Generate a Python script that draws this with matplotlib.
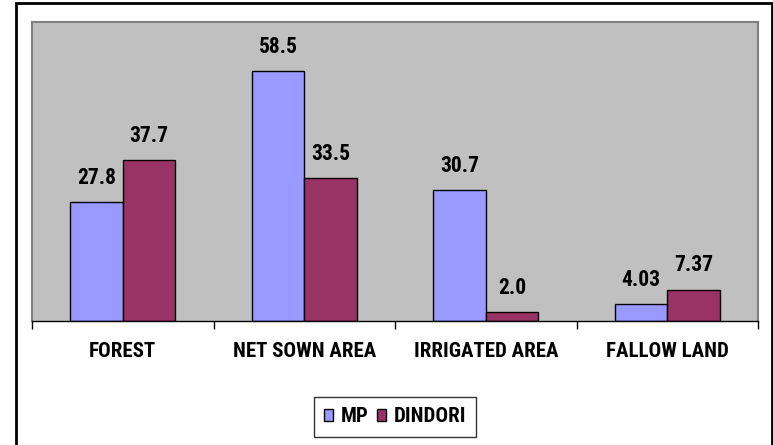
import numpy as np
import matplotlib.pyplot as plt
from matplotlib.patches import Rectangle

# land use shares (%)
categories = ["FOREST", "NET SOWN AREA", "IRRIGATED AREA", "FALLOW LAND"]
mp = [27.8, 58.5, 30.7, 4.03]
dindori = [37.7, 33.5, 2.0, 7.37]
mp_labels = ["27.8", "58.5", "30.7", "4.03"]
dindori_labels = ["37.7", "33.5", "2.0", "7.37"]

plt.rcParams['font.family'] = ['Roboto Condensed', 'Liberation Sans', 'DejaVu Sans']
plt.rcParams['font.weight'] = 'bold'

fig = plt.figure(figsize=(7.73, 4.45), dpi=100)
ax = fig.add_axes([32 / 773, 1 - 321 / 445, (758 - 32) / 773, (321 - 22) / 445])
ax.set_facecolor("#C0C0C0")

x = np.arange(len(categories))
w = 0.29
b1 = ax.bar(x - w / 2, mp, w, color="#9999FF", edgecolor="black", linewidth=1, label="MP")
b2 = ax.bar(x + w / 2, dindori, w, color="#993366", edgecolor="black", linewidth=1, label="DINDORI")

for bars, labels in ((b1, mp_labels), (b2, dindori_labels)):
    for r, t in zip(bars, labels):
        ax.annotate(t, (r.get_x() + r.get_width() / 2, r.get_height()),
                    xytext=(0, 13), textcoords="offset points",
                    ha="center", va="baseline", fontsize=15.5, fontweight="bold")

ax.set_xlim(-0.5, len(categories) - 0.5)
ax.set_ylim(0, 70)
ax.set_yticks([])

# boundary ticks between categories, labels at category centres
ax.set_xticks(np.arange(len(categories) + 1) - 0.5)
ax.set_xticklabels([])
ax.tick_params(axis="x", which="major", length=6, width=1, color="black", direction="out")
ax.set_xticks(x, minor=True)
ax.set_xticklabels(categories, minor=True, fontsize=15, fontweight="bold")
ax.tick_params(axis="x", which="minor", length=0, pad=15)

for s in ("left", "top", "right"):
    ax.spines[s].set_color("#808080")
    ax.spines[s].set_linewidth(1.5)
ax.spines["bottom"].set_color("black")
ax.spines["bottom"].set_linewidth(1)

leg = fig.legend(handles=[b1, b2], loc="center", bbox_to_anchor=(395 / 773, 1 - 417 / 445),
                 ncol=2, prop={"weight": "bold", "size": 15},
                 frameon=True, fancybox=False, handlelength=0.45, handleheight=0.45,
                 handletextpad=0.35, columnspacing=0.4, borderpad=0.5, borderaxespad=0)
leg.get_frame().set_edgecolor("black")
leg.get_frame().set_linewidth(1)

# chart border
fig.patches.append(Rectangle((16 / 773, -0.05), (772 - 16) / 773, 1 - 3 / 445 + 0.05,
                             transform=fig.transFigure, fill=False,
                             edgecolor="black", linewidth=2))

fig.savefig("out.png", dpi=100)
